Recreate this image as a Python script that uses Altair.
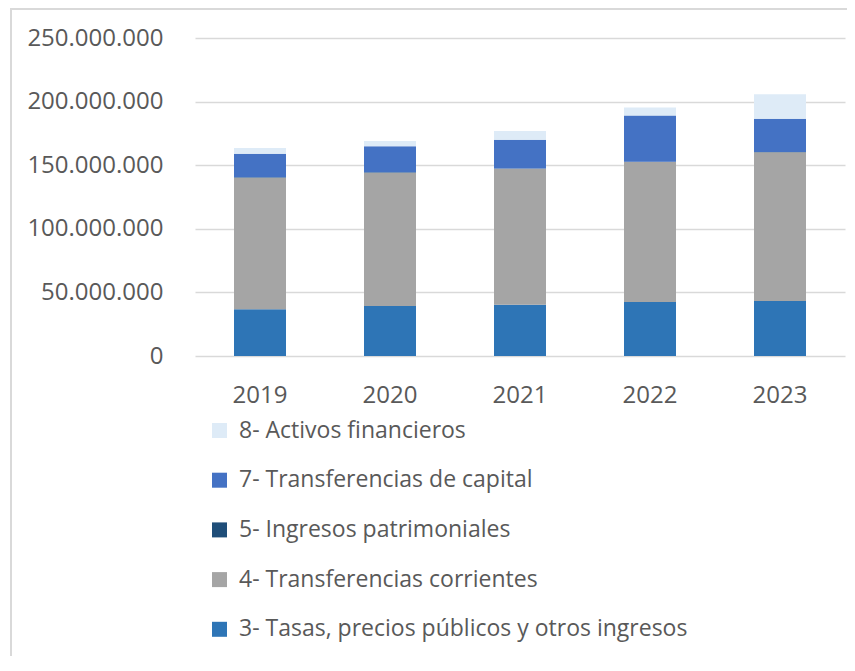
import altair as alt
import pandas as pd

years = ["2019", "2020", "2021", "2022", "2023"]
series = [
    "3- Tasas, precios públicos y otros ingresos",
    "4- Transferencias corrientes",
    "5- Ingresos patrimoniales",
    "7- Transferencias de capital",
    "8- Activos financieros",
]
tasas = [36800000, 39400000, 40200000, 42500000, 43300000]
corrientes = [103300000, 104700000, 107000000, 110000000, 116800000]
patrimoniales = [400000, 300000, 300000, 300000, 300000]
capital = [18500000, 20500000, 22600000, 36200000, 26200000]
activos = [4500000, 4200000, 6800000, 6300000, 19200000]
colors = ["#2E75B6", "#A5A5A5", "#1F4E79", "#4472C4", "#DEEBF7"]

values = [tasas, corrientes, patrimoniales, capital, activos]
rows = []
for si, (name, vals) in enumerate(zip(series, values)):
    for y, v in zip(years, vals):
        rows.append({"year": y, "serie": name, "value": v, "ord": si})
df = pd.DataFrame(rows)

legend_order = series[::-1]
legend_colors = colors[::-1]

font = "Open Sans"
txt = "#595959"

bars = alt.Chart(df).mark_bar().encode(
    x=alt.X("year:N", title=None,
            scale=alt.Scale(paddingInner=0.6, paddingOuter=0.3),
            axis=alt.Axis(labelAngle=0, ticks=False, domain=False, labelPadding=27,
                          labelFontSize=24, labelFont=font, labelColor=txt, grid=False)),
    y=alt.Y("value:Q", title=None, stack="zero",
            scale=alt.Scale(domain=[0, 250000000], nice=False),
            axis=alt.Axis(values=[0, 50000000, 100000000, 150000000, 200000000, 250000000],
                          labelExpr="replace(format(datum.value, ',.0f'), /,/g, '.')",
                          ticks=False, domain=False, labelPadding=32,
                          labelFontSize=24, labelFont=font, labelColor=txt,
                          grid=True, gridColor="#D9D9D9", gridWidth=1.5)),
    color=alt.Color("serie:N", title=None,
                    scale=alt.Scale(domain=legend_order, range=legend_colors),
                    legend=alt.Legend(orient="none", legendX=13, legendY=381,
                                      direction="vertical", symbolType="square",
                                      symbolSize=225, symbolStrokeWidth=0,
                                      labelFontSize=23, labelFont=font, labelColor=txt,
                                      labelOffset=8, rowPadding=25.7, labelLimit=700)),
    order=alt.Order("ord:Q", sort="ascending"),
)

frame = alt.Chart(pd.DataFrame({"a": [0]})).mark_rect(
    fill=None, stroke="#D9D9D9", strokeWidth=2, clip=False
).encode(
    x=alt.value(-184), x2=alt.value(700), y=alt.value(-29), y2=alt.value(700)
)

chart = alt.layer(frame, bars).properties(
    width=650, height=318,
    autosize=alt.AutoSizeParams(type="none"),
    padding={"left": 187, "top": 30, "right": 2, "bottom": 300},
).configure_view(stroke=None)

chart.save("out.html", embed_options={"renderer": "svg", "actions": False})
